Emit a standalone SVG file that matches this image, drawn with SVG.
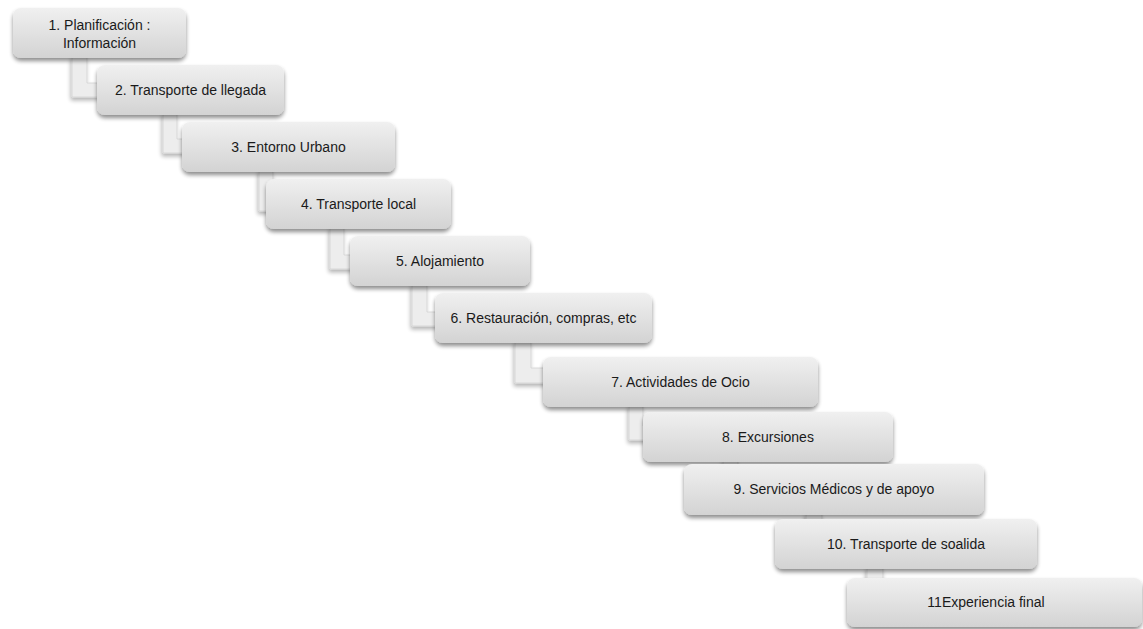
<svg xmlns="http://www.w3.org/2000/svg" width="1143" height="629" viewBox="0 0 1143 629">
<style>
.box{fill:url(#g);filter:url(#sh);}
.lbl{font-family:"Liberation Sans",Arial,sans-serif;font-size:14px;fill:#1a1a1a;text-anchor:middle;}
.conn{fill:#ededed;stroke:#d2d2d2;stroke-width:0.8;filter:url(#sh2);}
</style>
<defs>
<linearGradient id="g" x1="0" y1="0" x2="0" y2="1">
<stop offset="0" stop-color="#f0f0f0"/>
<stop offset="1" stop-color="#d3d3d3"/>
</linearGradient>
<filter id="sh" x="-10%" y="-30%" width="120%" height="170%">
<feGaussianBlur in="SourceAlpha" stdDeviation="2.2"/>
<feOffset dx="0" dy="3" result="b"/>
<feComponentTransfer><feFuncA type="linear" slope="0.45"/></feComponentTransfer>
<feMerge><feMergeNode/><feMergeNode in="SourceGraphic"/></feMerge>
</filter>
<filter id="sh2" x="-50%" y="-30%" width="200%" height="170%">
<feGaussianBlur in="SourceAlpha" stdDeviation="2"/>
<feOffset dx="-1" dy="3" result="b"/>
<feComponentTransfer><feFuncA type="linear" slope="0.3"/></feComponentTransfer>
<feMerge><feMergeNode/><feMergeNode in="SourceGraphic"/></feMerge>
</filter>
</defs>
<rect width="1143" height="629" fill="#fff"/>
<g id="connectors">
<path class="conn" d="M72,56 V97 H100 V83 H87 V56 Z"/>
<path class="conn" d="M163,113 V153 H185 V139 H177 V113 Z"/>
<path class="conn" d="M259,170 V211 H280 V197 H273 V170 Z"/>
<path class="conn" d="M330,227 V269 H353 V255 H344 V227 Z"/>
<path class="conn" d="M412,284 V326 H438 V312 H427 V284 Z"/>
<path class="conn" d="M515,341 V383 H546 V368 H531 V341 Z"/>
<path class="conn" d="M629,405 V440 H650 V426 H643 V405 Z"/>
<path class="conn" d="M723,460 V495 H750 V481 H738 V460 Z"/>
<path class="conn" d="M806,513 V550 H835 V536 H822 V513 Z"/>
<path class="conn" d="M867,567 V605 H895 V591 H883 V567 Z"/>
</g>
<g id="n1"><rect class="box" x="13" y="8" width="173" height="50" rx="8"/><text class="lbl" x="99.5" y="30">1. Planificación :</text><text class="lbl" x="99.5" y="48">Información</text></g>
<g id="n2"><rect class="box" x="97" y="65" width="187" height="50" rx="8"/><text class="lbl" x="190.5" y="95">2. Transporte de llegada</text></g>
<g id="n3"><rect class="box" x="182" y="122" width="213" height="50" rx="8"/><text class="lbl" x="288.5" y="152">3. Entorno Urbano</text></g>
<g id="n4"><rect class="box" x="266" y="179" width="185" height="50" rx="8"/><text class="lbl" x="358.5" y="209">4. Transporte local</text></g>
<g id="n5"><rect class="box" x="350" y="236" width="180" height="50" rx="8"/><text class="lbl" x="440" y="266">5. Alojamiento</text></g>
<g id="n6"><rect class="box" x="435" y="293" width="217" height="50" rx="8"/><text class="lbl" x="543.5" y="323">6. Restauración, compras, etc</text></g>
<g id="n7"><rect class="box" x="543" y="357" width="275" height="50" rx="8"/><text class="lbl" x="680.5" y="387">7. Actividades de Ocio</text></g>
<g id="n8"><rect class="box" x="643" y="412" width="250" height="50" rx="8"/><text class="lbl" x="768" y="442">8. Excursiones</text></g>
<g id="n9"><rect class="box" x="684" y="464" width="300" height="51" rx="8"/><text class="lbl" x="834" y="494">9. Servicios Médicos y de apoyo</text></g>
<g id="n10"><rect class="box" x="775" y="519" width="262" height="50" rx="8"/><text class="lbl" x="906" y="549">10. Transporte de soalida</text></g>
<g id="n11"><rect class="box" x="847" y="578" width="295" height="49" rx="8"/><text class="lbl" x="986" y="607">11Experiencia final</text></g>
</svg>
